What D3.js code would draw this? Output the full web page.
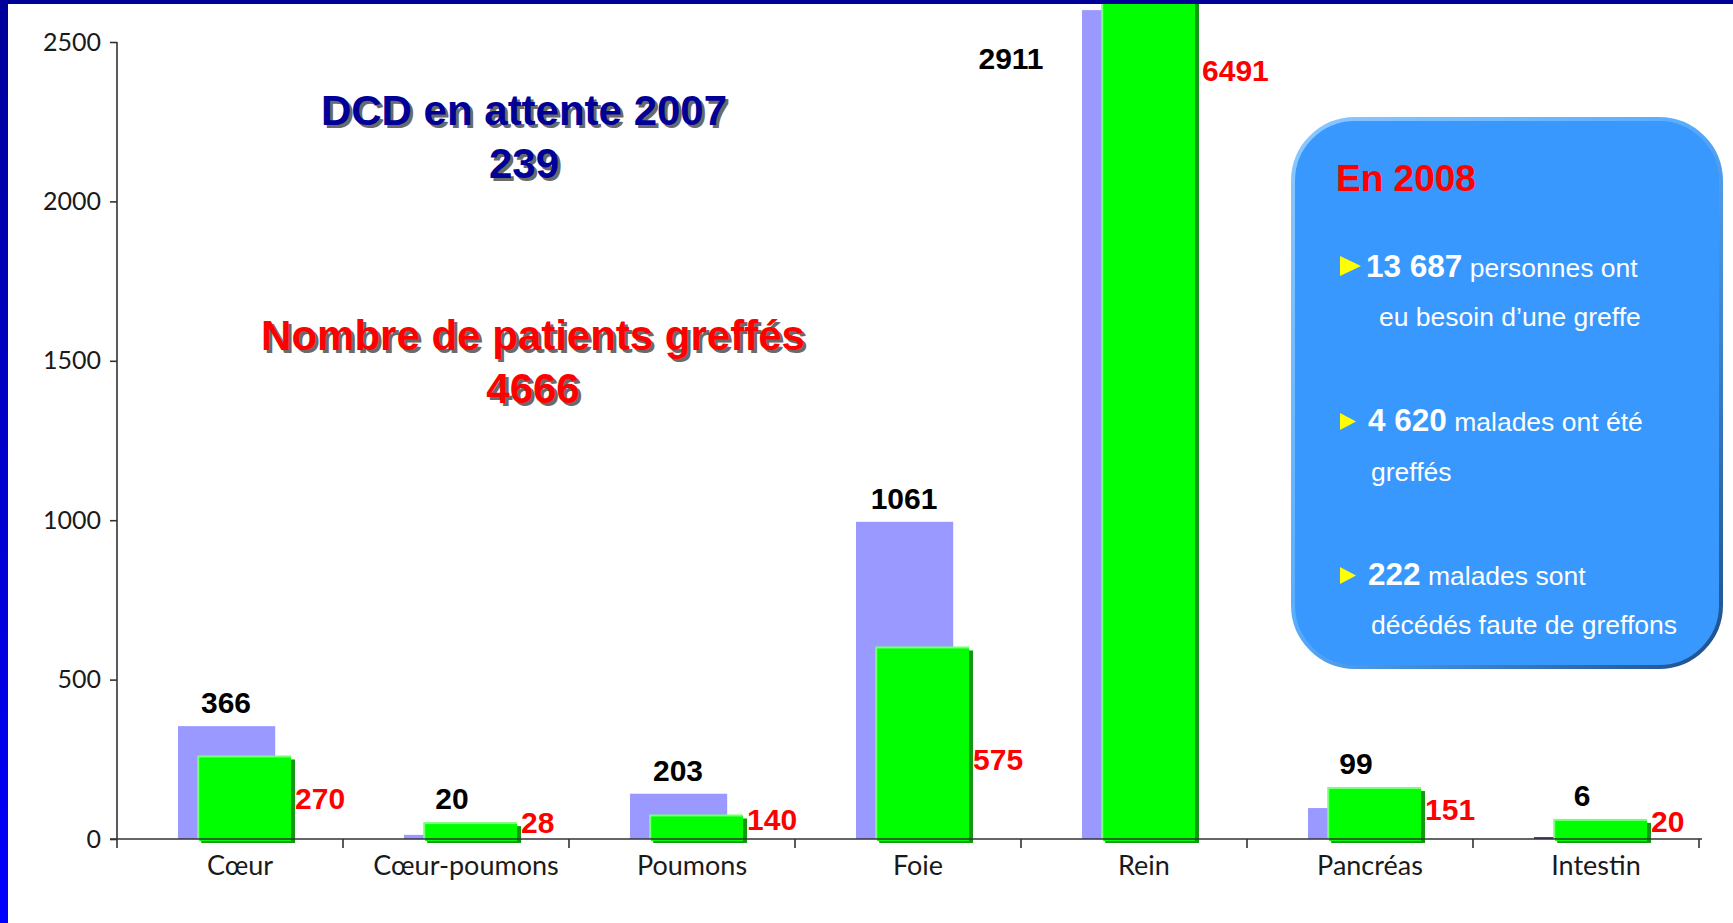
<!DOCTYPE html>
<html>
<head>
<meta charset="utf-8">
<script src="https://cdn.jsdelivr.net/npm/d3@7/dist/d3.min.js"></script>
<style>
  body { margin: 0; background: #fff; overflow: hidden; }
  svg { display: block; }
</style>
</head>
<body>
<div id="chart"></div>
<script>
// Organ categories
var organs = ["Cœur", "Cœur-poumons", "Poumons", "Foie", "Rein", "Pancréas", "Intestin"];

// Bar heights as drawn on the axis (Rein bars run past the top of the plot)
var attenteBars = [354, 13, 142, 995, 2600, 97, 6];
var greffesBars = [262, 53, 77, 604, 2750, 163, 63];

// Value labels printed next to the bars
var attenteLabels = ["366", "20", "203", "1061", "2911", "99", "6"];
var greffesLabels = ["270", "28", "140", "575", "6491", "151", "20"];

// Y axis ticks
var yTicks = [0, 500, 1000, 1500, 2000, 2500];

// Text in the blue box
var boxTitle = "En 2008";
var boxItems = [
    { bold: "13 687", rest: " personnes ont", second: "eu besoin d\u2019une greffe" },
    { bold: "4 620", rest: " malades ont été", second: "greffés" },
    { bold: "222", rest: " malades sont", second: "décédés faute de greffons" }
];

var svgWidth = 1733;
var svgHeight = 923;

var svg = d3.select("#chart")
    .append("svg")
    .attr("width", svgWidth)
    .attr("height", svgHeight);

// Slide frame: gradient blue strip on the left, navy strip on top
var defs = svg.append("defs");
var sideGrad = defs.append("linearGradient")
    .attr("id", "sideGrad")
    .attr("x1", 0).attr("y1", 0).attr("x2", 0).attr("y2", 1);
sideGrad.append("stop").attr("offset", "0%").attr("stop-color", "#000099");
sideGrad.append("stop").attr("offset", "100%").attr("stop-color", "#0000ff");

var boxGrad = defs.append("linearGradient")
    .attr("id", "boxGrad")
    .attr("x1", 0).attr("y1", 0).attr("x2", 1).attr("y2", 1);
boxGrad.append("stop").attr("offset", "0%").attr("stop-color", "#8cc8ff");
boxGrad.append("stop").attr("offset", "45%").attr("stop-color", "#5aaeff");
boxGrad.append("stop").attr("offset", "100%").attr("stop-color", "#1c4f8c");

defs.append("clipPath")
    .attr("id", "plotClip")
    .append("rect")
    .attr("x", 0).attr("y", 4)
    .attr("width", svgWidth).attr("height", svgHeight);

// Scales
var x = d3.scaleBand()
    .domain(organs)
    .range([117, 1699])
    .padding(0);

var y = d3.scaleLinear()
    .domain([0, 2500])
    .range([839, 42]);

var bw = x.bandwidth();
var lavX = d => x(d) + bw * 0.27;
var lavW = bw * 0.43;
var grX = d => x(d) + bw * 0.355;
var grW = bw * 0.415;

var chartGroup = svg.append("g")
    .attr("clip-path", "url(#plotClip)");

// Lavender bars (waiting list)
chartGroup.selectAll(".bar-attente")
    .data(organs)
    .enter()
    .append("rect")
    .attr("class", "bar-attente")
    .attr("x", d => lavX(d))
    .attr("y", (d, i) => y(attenteBars[i]))
    .attr("width", lavW)
    .attr("height", (d, i) => y(0) - y(attenteBars[i]))
    .attr("fill", (d, i) => attenteBars[i] < 10 ? "#333399" : "#9999ff");

// Green bars: dark shadow, light edge, then the face
chartGroup.selectAll(".bar-shadow")
    .data(organs)
    .enter()
    .append("rect")
    .attr("x", d => grX(d) + 4)
    .attr("y", (d, i) => y(greffesBars[i]) + 4)
    .attr("width", grW)
    .attr("height", (d, i) => y(0) - y(greffesBars[i]))
    .attr("fill", "#119911");

chartGroup.selectAll(".bar-edge")
    .data(organs)
    .enter()
    .append("rect")
    .attr("x", d => grX(d))
    .attr("y", (d, i) => y(greffesBars[i]))
    .attr("width", grW)
    .attr("height", (d, i) => y(0) - y(greffesBars[i]))
    .attr("fill", "#77ff77");

chartGroup.selectAll(".bar-greffes")
    .data(organs)
    .enter()
    .append("rect")
    .attr("class", "bar-greffes")
    .attr("x", d => grX(d) + 2)
    .attr("y", (d, i) => y(greffesBars[i]) + 2)
    .attr("width", grW - 2)
    .attr("height", (d, i) => y(0) - y(greffesBars[i]))
    .attr("fill", "#00ff00");

// Axes
var bottomAxis = d3.axisBottom(x).tickSize(0).tickPadding(17);
var leftAxis = d3.axisLeft(y)
    .tickValues(yTicks)
    .tickFormat(d3.format("d"))
    .tickSize(7)
    .tickPadding(9);

var xAxisG = svg.append("g")
    .attr("transform", `translate(0,${y(0)})`)
    .call(bottomAxis);
xAxisG.select(".domain")
    .attr("d", `M110,0H${x.range()[1] + 3}`)
    .attr("stroke", "#333")
    .attr("stroke-width", 1.6);
xAxisG.selectAll(".tick text")
    .attr("dx", 10)
    .attr("font-family", "Lato, 'Open Sans', sans-serif")
    .attr("font-size", 27)
    .attr("fill", "#1a1a1a");

// Category separators below the axis
svg.selectAll(".sep")
    .data(organs.concat(["end"]))
    .enter()
    .append("line")
    .attr("x1", (d, i) => x.range()[0] + i * bw)
    .attr("x2", (d, i) => x.range()[0] + i * bw)
    .attr("y1", y(0))
    .attr("y2", y(0) + 9)
    .attr("stroke", "#333")
    .attr("stroke-width", 1.6);

var yAxisG = svg.append("g")
    .attr("transform", `translate(${x.range()[0]},0)`)
    .call(leftAxis);
yAxisG.select(".domain")
    .attr("d", `M0,${y(0)}V${y(2500)}`)
    .attr("stroke", "#333")
    .attr("stroke-width", 1.6);
yAxisG.selectAll(".tick line")
    .attr("stroke", "#333")
    .attr("stroke-width", 1.6);
yAxisG.selectAll(".tick text")
    .attr("font-family", "Lato, 'Open Sans', sans-serif")
    .attr("font-size", 25)
    .attr("fill", "#1a1a1a");

// Value labels
var numFont = "'Liberation Sans', Arial, sans-serif";
svg.selectAll(".lab-attente")
    .data(organs)
    .enter()
    .append("text")
    .attr("font-family", numFont)
    .attr("font-weight", "bold")
    .attr("font-size", 30)
    .attr("fill", "#000")
    .attr("text-anchor", "middle")
    .attr("x", (d, i) => {
        var top = Math.min(y(attenteBars[i]), y(greffesBars[i]));
        return top < 60 ? lavX(d) - 71 : x(d) + bw / 2 - 4;
    })
    .attr("y", (d, i) => {
        var top = Math.min(y(attenteBars[i]), y(greffesBars[i]));
        return top < 60 ? 69 : top - 13;
    })
    .text((d, i) => attenteLabels[i]);

svg.selectAll(".lab-greffes")
    .data(organs)
    .enter()
    .append("text")
    .attr("font-family", numFont)
    .attr("font-weight", "bold")
    .attr("font-size", 30)
    .attr("fill", "#ff0000")
    .attr("x", (d, i) => grX(d) + grW + (y(greffesBars[i]) < 60 ? 7 : 4))
    .attr("y", (d, i) => {
        var top = y(greffesBars[i]);
        return top < 60 ? 81 : top + 0.64 * (y(0) - top);
    })
    .text((d, i) => greffesLabels[i]);

// Big headline texts with a drop shadow
function shadowText(lines, cx, baselines, color) {
    lines.forEach(function(t, i) {
        svg.append("text")
            .attr("x", cx + 3).attr("y", baselines[i] + 3)
            .attr("text-anchor", "middle")
            .attr("font-family", numFont)
            .attr("font-weight", "bold")
            .attr("font-size", 42)
            .attr("fill", "#6a6a6a")
            .text(t);
        svg.append("text")
            .attr("x", cx).attr("y", baselines[i])
            .attr("text-anchor", "middle")
            .attr("font-family", numFont)
            .attr("font-weight", "bold")
            .attr("font-size", 42)
            .attr("fill", color)
            .text(t);
    });
}
shadowText(["DCD en attente 2007", "239"], 524, [125, 178], "#000099");
shadowText(["Nombre de patients greffés", "4666"], 533, [350, 403], "#ff0000");

// Rounded info box
var box = { x: 1293, y: 119, w: 428, h: 548 };
svg.append("rect")
    .attr("x", box.x).attr("y", box.y)
    .attr("width", box.w).attr("height", box.h)
    .attr("rx", 62).attr("ry", 62)
    .attr("fill", "#3898fd")
    .attr("stroke", "url(#boxGrad)")
    .attr("stroke-width", 4);

svg.append("text")
    .attr("x", 1336).attr("y", 191)
    .attr("font-family", numFont)
    .attr("font-weight", "bold")
    .attr("font-size", 37)
    .attr("fill", "#ff0000")
    .text(boxTitle);

var itemBase = [277, 431, 585];
var secondBase = [326, 481, 634];
var secondX = [1379, 1371, 1371];
boxItems.forEach(function(item, i) {
    var b = itemBase[i];
    var big = i === 0;
    var tw = big ? 21 : 16;
    var th = big ? 20 : 17;
    svg.append("path")
        .attr("d", `M1340,${b - th - 1}L${1340 + tw},${b - th / 2 - 1}L1340,${b - 1}Z`)
        .attr("fill", "#ffff00");
    var t = svg.append("text")
        .attr("x", big ? 1366 : 1368).attr("y", b)
        .attr("font-family", numFont)
        .attr("fill", "#fff");
    t.append("tspan")
        .attr("font-weight", "bold")
        .attr("font-size", 31.5)
        .text(item.bold);
    t.append("tspan")
        .attr("font-size", 26.5)
        .text(item.rest);
    svg.append("text")
        .attr("x", secondX[i]).attr("y", secondBase[i])
        .attr("font-family", numFont)
        .attr("font-size", 26.5)
        .attr("fill", "#fff")
        .text(item.second);
});

// Slide frame on top of everything
svg.append("rect")
    .attr("x", 0).attr("y", 0)
    .attr("width", 8).attr("height", svgHeight)
    .attr("fill", "url(#sideGrad)");
svg.append("rect")
    .attr("x", 0).attr("y", 0)
    .attr("width", svgWidth).attr("height", 4)
    .attr("fill", "#000099");
</script>
</body>
</html>
